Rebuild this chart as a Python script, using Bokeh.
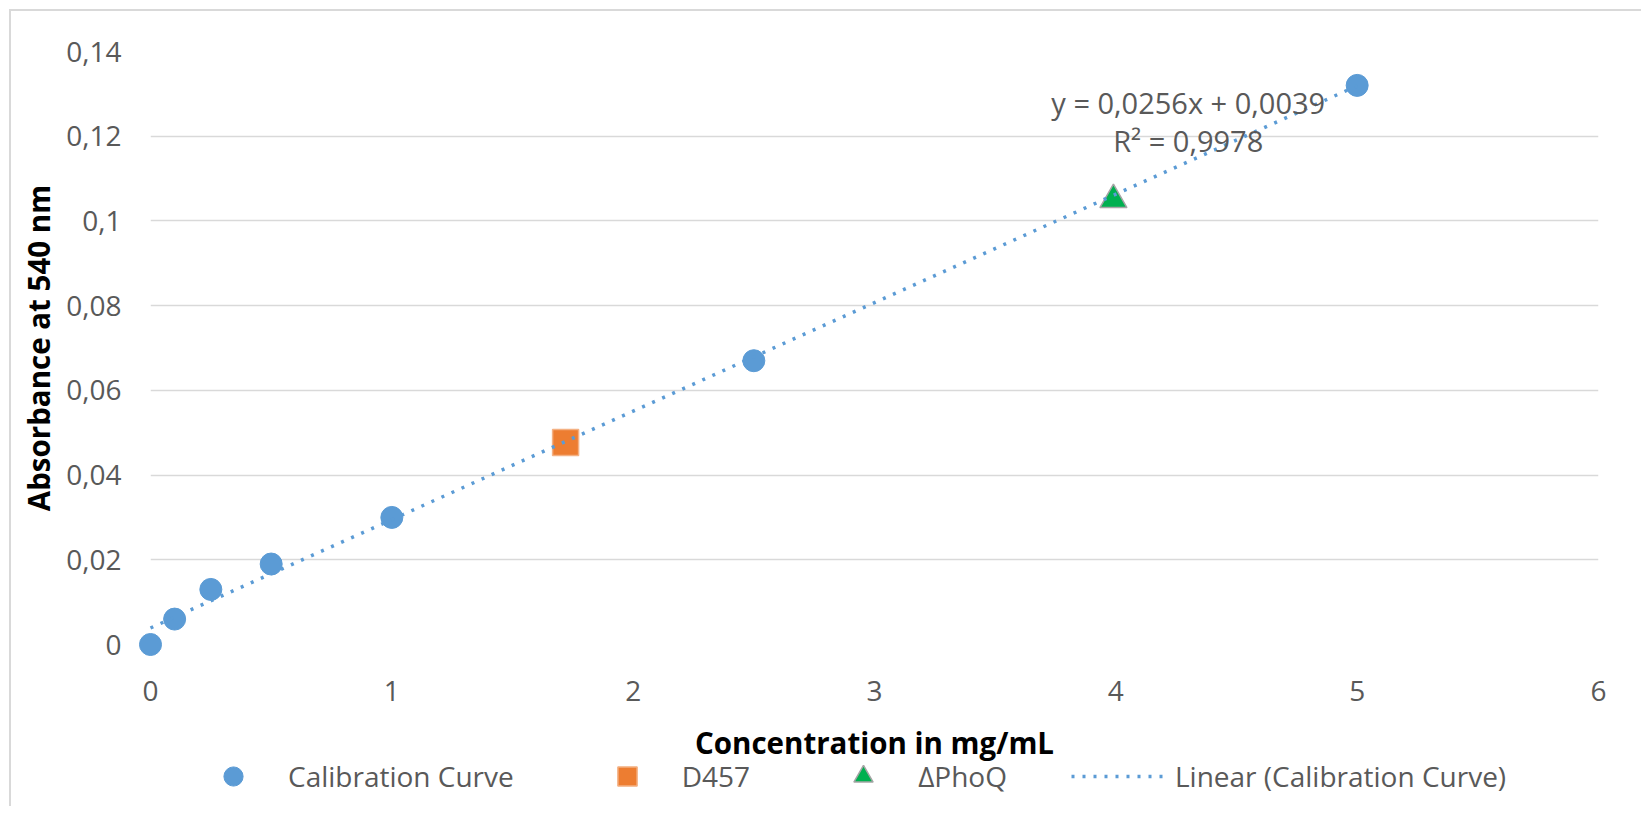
from bokeh.plotting import figure
from bokeh.layouts import column
from bokeh.models import (Range1d, FixedTicker, CustomJSTickFormatter, Legend, LegendItem, Label)
from bokeh.embed import file_html
from bokeh.resources import INLINE

# ---- data ----
calib_x = [0, 0.1, 0.25, 0.5, 1, 2.5, 5]
calib_y = [0, 0.006, 0.013, 0.019, 0.030, 0.067, 0.132]
d457_x = [1.72]
d457_y = [0.0477]
phoq_x = [3.99]
phoq_y = [0.105]
trend_slope = 0.0256
trend_intercept = 0.0039
trend_x = [0, 5]
x_ticks = [0, 1, 2, 3, 4, 5, 6]
y_ticks = [0, 0.02, 0.04, 0.06, 0.08, 0.10, 0.12, 0.14]
series_names = ["Calibration Curve", "D457", "\u0394PhoQ", "Linear (Calibration Curve)"]
equation_text = "y = 0,0256x + 0,0039"
r2_text = "R\u00b2 = 0,9978"

FONT = "Open Sans"
GREY = "#595959"
BLUE = "#5B9BD5"
ORANGE = "#ED7D31"
GREEN = "#00B050"

trend_y = [trend_slope * x + trend_intercept for x in trend_x]

# ---------------- main chart ----------------
p = figure(width=1630, height=759, output_backend="svg", toolbar_location=None,
           x_range=Range1d(x_ticks[0], x_ticks[-1]), y_range=Range1d(y_ticks[0], y_ticks[-1]),
           min_border_left=139, min_border_right=43, min_border_top=40, min_border_bottom=126)
p.outline_line_color = None
p.background_fill_color = "white"
p.border_fill_color = "white"

p.xaxis.ticker = FixedTicker(ticks=x_ticks)
p.yaxis.ticker = FixedTicker(ticks=y_ticks)
p.yaxis.formatter = CustomJSTickFormatter(code="return String(parseFloat(tick.toFixed(4))).replace('.', ',');")
for ax in (p.xaxis, p.yaxis):
    ax.axis_line_color = None
    ax.major_tick_line_color = None
    ax.minor_tick_line_color = None
    ax.major_tick_out = 0
    ax.major_tick_in = 0
    ax.major_label_text_font = FONT
    ax.major_label_text_font_size = "28px"
    ax.major_label_text_color = GREY
    ax.axis_label_text_font = FONT
    ax.axis_label_text_font_size = "29.5px"
    ax.axis_label_text_font_style = "bold"
    ax.axis_label_text_color = "black"
p.xaxis.axis_label = "Concentration in mg/mL"
p.yaxis.axis_label = "Absorbance at 540 nm"
p.xaxis.major_label_standoff = 36
p.xaxis.axis_label_standoff = 18
p.yaxis.major_label_standoff = 29
p.yaxis.axis_label_standoff = 4

p.xgrid.grid_line_color = None
p.ygrid.grid_line_color = "#d9d9d9"
p.ygrid.grid_line_width = 1.5

# glyphs (annotation level so edge markers are not clipped by the frame)
p.scatter(calib_x, calib_y, marker="circle", size=22, fill_color=BLUE,
          line_color=BLUE, level="annotation")
p.scatter(d457_x, d457_y, marker="square", size=26, fill_color=ORANGE,
          line_color="#F4B183", line_width=1.5, level="annotation")
p.scatter(phoq_x, phoq_y, marker="triangle", size=27, fill_color=GREEN,
          line_color="#A5A5A5", line_width=1.5, level="annotation")
p.line(trend_x, trend_y, line_color=BLUE, line_width=3.5, line_dash="3 8", level="annotation")

p.add_layout(Label(x=4.3, y=0.128, text=equation_text, text_align="center", text_baseline="middle",
                   text_font=FONT, text_font_size="29px", text_color=GREY))
p.add_layout(Label(x=4.3, y=0.119, text=r2_text, text_align="center", text_baseline="middle",
                   text_font=FONT, text_font_size="29px", text_color=GREY))

# ---------------- legend strip ----------------
# same series drawn again, but outside this strip's visible ranges: only the legend shows
lg = figure(width=1630, height=58, output_backend="svg", toolbar_location=None,
            x_range=Range1d(-3, -2), y_range=Range1d(-3, -2),
            min_border_left=0, min_border_right=0, min_border_top=0, min_border_bottom=0,
            styles={"margin-top": "-22px"})
lg.axis.visible = False
lg.grid.visible = False
lg.outline_line_color = None
lg.border_fill_color = None
lg.background_fill_color = None
l_cal = lg.scatter(calib_x, calib_y, marker="circle", fill_color=BLUE, line_color=BLUE)
l_d457 = lg.scatter(d457_x, d457_y, marker="square", fill_color=ORANGE, line_color="#F4B183", line_width=1.5)
l_phoq = lg.scatter(phoq_x, phoq_y, marker="triangle", fill_color=GREEN, line_color="#A5A5A5", line_width=1.5)
l_trend = lg.line(trend_x, trend_y, line_color=BLUE, line_width=3.5, line_dash="3 8")

legend = Legend(items=[LegendItem(label=series_names[0], renderers=[l_cal]),
                       LegendItem(label=series_names[1], renderers=[l_d457]),
                       LegendItem(label=series_names[2], renderers=[l_phoq]),
                       LegendItem(label=series_names[3], renderers=[l_trend])],
                orientation="horizontal", location=(34, 6),
                glyph_width=98, glyph_height=48, label_standoff=6, spacing=64,
                padding=0, margin=0, border_line_color=None, background_fill_alpha=0,
                label_text_font=FONT, label_text_font_size="28px", label_text_color=GREY)
lg.add_layout(legend)

layout = column(p, lg, spacing=0,
                styles={"margin-left": "9px", "margin-top": "9px",
                        "border-left": "2px solid #d9d9d9", "border-top": "2px solid #d9d9d9"})

open("out.html", "w").write(file_html(layout, INLINE))
